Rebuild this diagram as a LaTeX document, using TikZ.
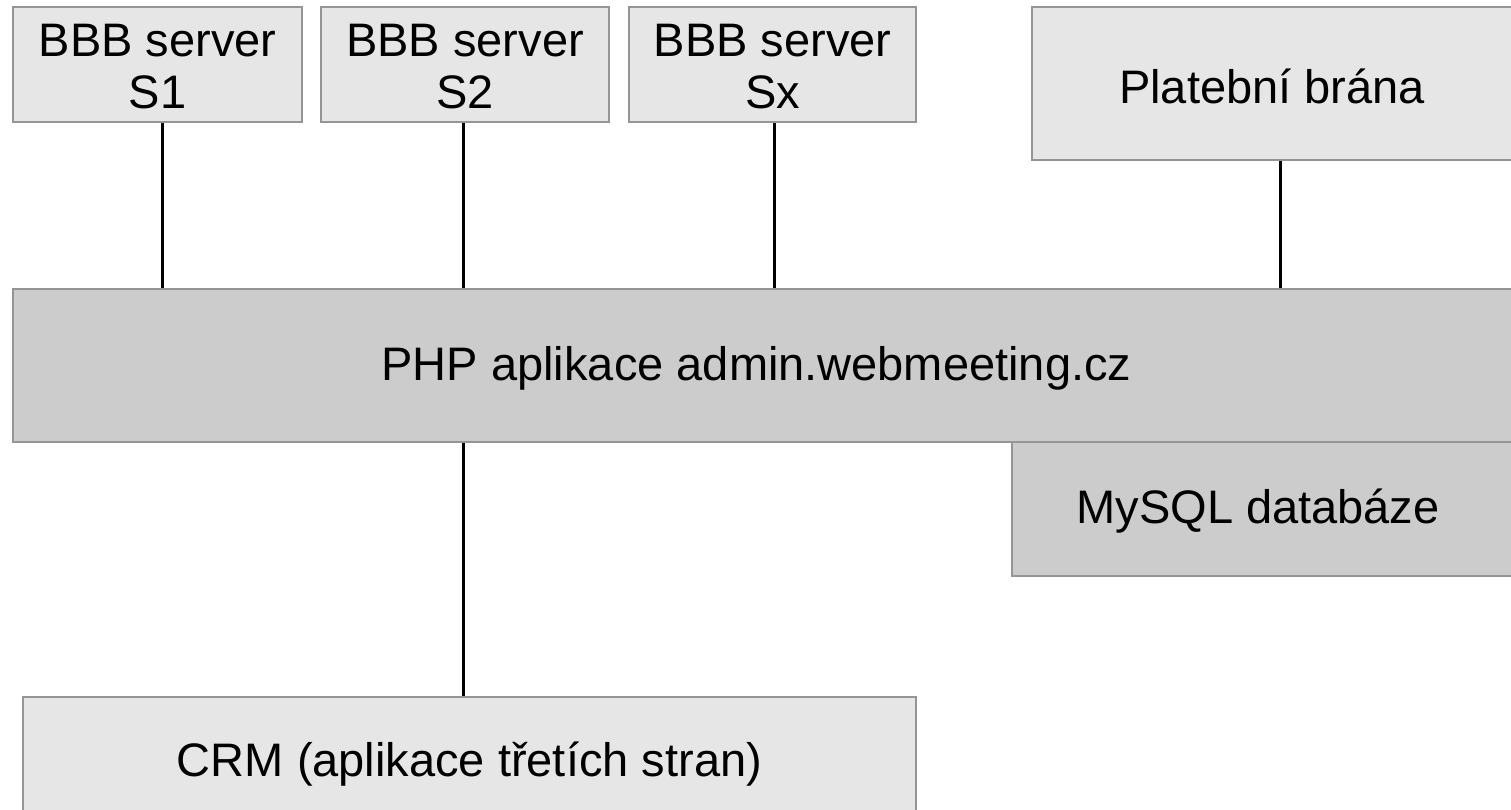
\documentclass[tikz,border=0pt]{standalone}
\usepackage{fontspec}
\setmainfont{Liberation Sans}
\definecolor{lightbox}{HTML}{E6E6E6}
\definecolor{darkbox}{HTML}{CCCCCC}
\definecolor{boxborder}{HTML}{959595}
\begin{document}
\begin{tikzpicture}[x=1pt,y=-1pt,
  box/.style={draw=boxborder,line width=1.6pt,inner sep=0pt},
  light/.style={box,fill=lightbox},
  dark/.style={box,fill=darkbox},
  lbl/.style={inner sep=0pt,align=center,yshift=-2.5pt,
    font=\fontsize{47}{52}\selectfont},
  link/.style={draw=black,line width=3pt}]
\clip (0,0) rectangle (1511,810);
\fill[white] (0,0) rectangle (1511,810);
% boxes
\node[light,minimum width=289pt,minimum height=115pt,label={[lbl]center:BBB server\\S1}] (s1) at (157.5,64.5) {};
\node[light,minimum width=288pt,minimum height=115pt,label={[lbl]center:BBB server\\S2}] (s2) at (465,64.5) {};
\node[light,minimum width=287pt,minimum height=115pt,label={[lbl]center:BBB server\\Sx}] (sx) at (772.5,64.5) {};
\node[light,minimum width=480pt,minimum height=153pt,label={[lbl]center:Platební brána}] (pay) at (1272,83.5) {};
\node[dark,minimum width=1499pt,minimum height=153pt,label={[lbl,xshift=-6pt]center:PHP aplikace admin.webmeeting.cz}] (php) at (762.5,365.5) {};
\node[dark,minimum width=500pt,minimum height=134pt,label={[lbl,xshift=-4pt]center:MySQL databáze}] (db) at (1262,509) {};
\node[light,minimum width=893pt,minimum height=130pt,label={[lbl]center:CRM (aplikace třetích stran)}] (crm) at (469.5,762) {};
% connectors
\draw[link] ([xshift=4.5pt]s1.south) -- ([xshift=4.5pt]s1.south |- php.north);
\draw[link] ([xshift=-2pt]s2.south) -- ([xshift=-2pt]s2.south |- php.north);
\draw[link] ([xshift=1.5pt]sx.south) -- ([xshift=1.5pt]sx.south |- php.north);
\draw[link] ([xshift=8pt]pay.south) -- ([xshift=8pt]pay.south |- php.north);
\draw[link] ([xshift=-2pt]s2.south |- php.south) -- ([xshift=-2pt]s2.south |- crm.north);
\end{tikzpicture}
\end{document}
